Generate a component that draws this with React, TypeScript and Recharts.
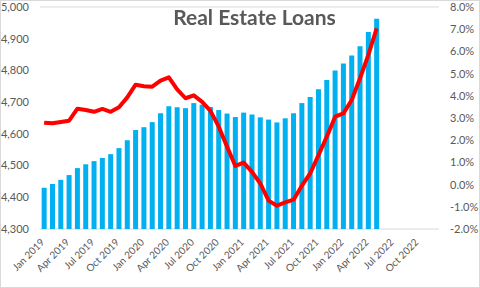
import { Bar, CartesianGrid, ComposedChart, Line, XAxis, YAxis } from "recharts";

const months = [
  "Jan 2019", "Feb 2019", "Mar 2019", "Apr 2019", "May 2019", "Jun 2019",
  "Jul 2019", "Aug 2019", "Sep 2019", "Oct 2019", "Nov 2019", "Dec 2019",
  "Jan 2020", "Feb 2020", "Mar 2020", "Apr 2020", "May 2020", "Jun 2020",
  "Jul 2020", "Aug 2020", "Sep 2020", "Oct 2020", "Nov 2020", "Dec 2020",
  "Jan 2021", "Feb 2021", "Mar 2021", "Apr 2021", "May 2021", "Jun 2021",
  "Jul 2021", "Aug 2021", "Sep 2021", "Oct 2021", "Nov 2021", "Dec 2021",
  "Jan 2022", "Feb 2022", "Mar 2022", "Apr 2022", "May 2022", "Jun 2022",
  "Jul 2022", "Aug 2022", "Sep 2022", "Oct 2022", "Nov 2022", "Dec 2022",
];

// real estate loans, $bn (left axis)
const loans = [
  4430, 4442, 4455, 4470, 4492, 4504, 4514, 4524, 4536, 4555, 4580, 4612,
  4621, 4637, 4665, 4687, 4684, 4681, 4697, 4692, 4685, 4675, 4664, 4653,
  4667, 4661, 4652, 4645, 4636, 4649, 4665, 4697, 4716, 4741, 4770, 4800,
  4822, 4847, 4876, 4921, 4963,
];

// year-over-year growth, % (right axis)
const growth = [
  2.79, 2.76, 2.82, 2.88, 3.42, 3.36, 3.28, 3.41, 3.28, 3.48, 3.93, 4.5,
  4.43, 4.41, 4.68, 4.83, 4.29, 3.89, 4.02, 3.73, 3.32, 2.61, 1.71, 0.84,
  0.99, 0.57, 0.05, -0.72, -0.95, -0.8, -0.68, -0.05, 0.5, 1.33, 2.16, 3.06,
  3.21, 3.81, 4.79, 5.84, 7.04,
];

const leftTicks = [4300, 4400, 4500, 4600, 4700, 4800, 4900, 5000];
const rightTicks = [-2, -1, 0, 1, 2, 3, 4, 5, 6, 7, 8];

const data = months.map((m, i) => ({
  month: m,
  loans: loans[i],
  growth: growth[i],
}));

const font = "Lato, 'Open Sans', sans-serif";
const grey = "#595959";

const MonthTick = ({ x, y, payload }: any) => {
  const tx = x + 1;
  const ty = y + 6;
  return (
    <text
      x={tx}
      y={ty}
      transform={`rotate(-45, ${tx}, ${ty})`}
      textAnchor="end"
      fontSize={10}
      fontFamily={font}
      fill={grey}
    >
      {payload.value}
    </text>
  );
};

export default function App() {
  return (
    <div
      style={{
        position: "fixed",
        left: 0,
        top: 0,
        width: 480,
        height: 288,
        background: "#fff",
        border: "1px solid #d9d9d9",
        boxSizing: "border-box",
      }}
    >
      <div
        style={{
          position: "absolute",
          left: 0,
          width: 507,
          top: 3,
          textAlign: "center",
          fontFamily: font,
          fontWeight: 700,
          fontSize: 21,
          color: grey,
          zIndex: 2,
        }}
      >
        Real Estate Loans
      </div>
      <div style={{ position: "absolute", left: -1, top: -1 }}>
        <ComposedChart
          width={480}
          height={288}
          data={data}
          barCategoryGap="20%"
          margin={{ top: 7, right: 0, left: 0, bottom: 0 }}
        >
          <CartesianGrid vertical={false} stroke="#d9d9d9" />
          <XAxis
            dataKey="month"
            interval={2}
            height={59}
            tickLine={false}
            axisLine={false}
            tick={<MonthTick />}
          />
          <YAxis
            yAxisId="left"
            width={40}
            domain={[4300, 5000]}
            ticks={leftTicks}
            tickFormatter={(v: number) => v.toLocaleString("en-US")}
            tickLine={false}
            axisLine={false}
            tickMargin={5}
            tick={{ fontSize: 11, fontFamily: font, fill: grey }}
          />
          <YAxis
            yAxisId="right"
            orientation="right"
            width={41}
            domain={[-2, 8]}
            ticks={rightTicks}
            tickFormatter={(v: number) => v.toFixed(1) + "%"}
            tickLine={false}
            axisLine={false}
            tickMargin={5}
            tick={{ fontSize: 11, fontFamily: font, fill: grey }}
          />
          <Bar
            yAxisId="left"
            dataKey="loans"
            fill="#00B0F0"
            isAnimationActive={false}
          />
          <Line
            yAxisId="right"
            dataKey="growth"
            stroke="#FF0000"
            strokeWidth={4}
            dot={false}
            strokeLinejoin="round"
            type="linear"
            isAnimationActive={false}
          />
        </ComposedChart>
      </div>
    </div>
  );
}
